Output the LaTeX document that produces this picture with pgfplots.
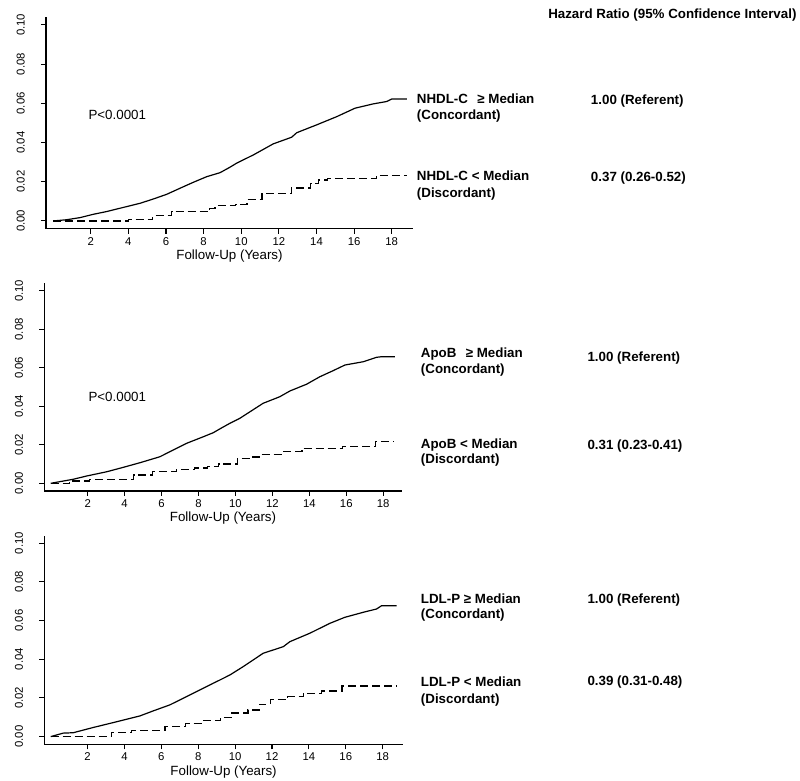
\documentclass[border=0pt]{standalone}
\usepackage{pgfplots}
\pgfplotsset{compat=1.18}
\usepackage{fontspec}
\setmainfont{Liberation Sans}

\pgfplotsset{
  kmstyle/.style={
    scale only axis,
    anchor=south west,
    axis x line=bottom, axis y line=left,
    axis line style={-, line width=0.8pt, black},
    ymin=-0.004, ymax=0.104,
    xtick={2,4,6,8,10,12,14,16,18},
    ytick={0,0.02,0.04,0.06,0.08,0.1},
    tick align=outside,
    major tick length=3.75pt,
    tick style={black, line width=0.8pt},
    /pgf/number format/assume math mode=true,
    every tick label/.append style={font=\fontsize{8.5}{10}\selectfont},
    yticklabel style={/pgf/number format/fixed, /pgf/number format/fixed zerofill, /pgf/number format/precision=2, rotate=90, yshift=12pt, anchor=south, inner sep=0pt},
    xticklabel style={inner sep=0pt, anchor=center, yshift=-5.6pt},
    xlabel={Follow-Up (Years)},
    xlabel style={font=\fontsize{10}{12}\selectfont, at={(axis description cs:0.5,0)}, anchor=center, yshift=-20.5pt, inner sep=0pt},
    clip=false,
  },
  solidkm/.style={black, line width=0.9pt, line join=round, no marks},
  dashkm/.style={black, line width=0.9pt, dash pattern=on 6pt off 3pt, const plot, no marks},
}

\begin{document}
\begin{tikzpicture}
\useasboundingbox (0,0) rectangle (600pt,585.75pt);

% ---------- Panel 1: NHDL-C ----------
\begin{axis}[kmstyle, at={(34.5pt,414.15pt)}, width=275.25pt, height=158.85pt, xmin=-0.38, xmax=19.13]
\addplot[solidkm] coordinates {
(0,0) (0.7,0.0006) (1.43,0.0017) (2.14,0.0034) (2.85,0.0048) (3.9,0.0073) (4.62,0.009)
(5.33,0.0112) (6.04,0.0136) (6.75,0.0167) (7.45,0.0197) (8.17,0.0226) (8.87,0.0246)
(9.4,0.0274) (9.76,0.0295) (10.65,0.0337) (11.7,0.0393) (12.68,0.0427) (12.95,0.045)
(14.01,0.049) (15.08,0.0532) (16.05,0.0575) (17.02,0.0597) (17.73,0.0609) (18.0,0.0622) (18.8,0.0622)
};
\addplot[dashkm] coordinates {
(0,0) (4.0,0.0008) (5.3,0.0028) (6.3,0.0048) (8.3,0.0062) (8.6,0.0078) (9.7,0.0085)
(10.3,0.011) (11.1,0.0138) (12.65,0.0168) (13.7,0.0192) (14.1,0.0209) (14.6,0.0215)
(17.2,0.0231) (18.8,0.0231)
};
\end{axis}

% ---------- Panel 2: ApoB ----------
\begin{axis}[kmstyle, at={(33.2pt,217.5pt)}, width=268.05pt, height=155.8pt, xmin=-0.35, xmax=19.0]
\addplot[solidkm] coordinates {
(0,0) (1.22,0.0021) (1.95,0.0038) (3.03,0.006) (3.93,0.0083) (4.83,0.0107) (5.91,0.0138)
(6.63,0.0173) (7.36,0.0208) (8.26,0.0242) (8.8,0.0263) (9.16,0.0283) (9.7,0.0312)
(10.24,0.0338) (11.5,0.0416) (12.4,0.045) (12.95,0.048) (13.85,0.0515) (14.57,0.0554)
(15.3,0.0586) (15.93,0.0615) (16.92,0.0632) (17.64,0.0655) (17.9,0.0658) (18.63,0.0658)
};
\addplot[dashkm] coordinates {
(0,0) (1.0,0.0012) (2.1,0.002) (4.5,0.0043) (5.5,0.006) (6.8,0.0072) (7.8,0.008)
(8.5,0.0088) (9.1,0.0100) (10.1,0.013) (10.8,0.0137) (11.3,0.0151) (12.5,0.0164)
(13.6,0.0182) (15.8,0.019) (17.6,0.0216) (18.6,0.0216)
};
\end{axis}

% ---------- Panel 3: LDL-P ----------
\begin{axis}[kmstyle, at={(33.2pt,27.5pt)}, width=269.0pt, height=156.6pt, xmin=-0.35, xmax=19.1]
\addplot[solidkm] coordinates {
(0,0) (0.68,0.0018) (1.22,0.002) (2.3,0.0047) (3.03,0.0064) (3.75,0.0081) (4.84,0.0107)
(5.56,0.0133) (6.46,0.0164) (7.37,0.0207) (8.27,0.025) (8.81,0.0276) (9.18,0.0293)
(9.72,0.0319) (10.44,0.0362) (11.52,0.0431) (12.61,0.0465) (12.97,0.0491) (14.06,0.0535)
(15.14,0.0586) (15.95,0.0617) (16.95,0.0643) (17.67,0.066) (17.94,0.0677) (18.76,0.0677)
};
\addplot[dashkm] coordinates {
(0,0) (3.3,0.0023) (4.4,0.0033) (6.2,0.0053) (7.3,0.0068) (8.2,0.0082) (9.2,0.0098)
(9.8,0.0122) (10.7,0.0138) (11.3,0.0168) (11.9,0.019) (12.85,0.0207) (13.7,0.0224)
(14.7,0.0236) (15.8,0.0262) (18.76,0.0262)
};
\end{axis}

% ---------- text annotations (pixel coordinates, y downward) ----------
\begin{scope}[x=0.75pt, y=-0.75pt, shift={(0pt,585.75pt)},
  every node/.style={inner sep=0pt, anchor=base west},
  lab/.style={font=\bfseries\fontsize{10}{12}\selectfont},
  reg/.style={font=\fontsize{10}{12}\selectfont}]
\node[lab] at (548,18.1) {Hazard Ratio (95\% Confidence Interval)};
% panel 1
\node[reg] at (88.3,119.5) {P<0.0001};
\node[lab] at (416.7,103.1) {NHDL-C\hspace{7pt}≥ Median};
\node[lab] at (416.7,119.8) {(Concordant)};
\node[lab] at (416.7,180.5) {NHDL-C < Median};
\node[lab] at (416.7,197.5) {(Discordant)};
\node[lab] at (590.7,104.1) {1.00 (Referent)};
\node[lab] at (590.7,181.5) {0.37 (0.26-0.52)};
% panel 2
\node[reg] at (88.3,401.5) {P<0.0001};
\node[lab] at (420.7,357.5) {ApoB\hspace{7pt}≥ Median};
\node[lab] at (420.7,373.1) {(Concordant)};
\node[lab] at (420.7,448.1) {ApoB < Median};
\node[lab] at (420.7,463.8) {(Discordant)};
\node[lab] at (587.3,361.5) {1.00 (Referent)};
\node[lab] at (587.3,449.8) {0.31 (0.23-0.41)};
% panel 3
\node[lab] at (420.7,603.1) {LDL-P ≥ Median};
\node[lab] at (420.7,618.8) {(Concordant)};
\node[lab] at (420.7,686.5) {LDL-P < Median};
\node[lab] at (420.7,703.1) {(Discordant)};
\node[lab] at (587.3,603.1) {1.00 (Referent)};
\node[lab] at (587.3,685.5) {0.39 (0.31-0.48)};
\end{scope}
\end{tikzpicture}
\end{document}
